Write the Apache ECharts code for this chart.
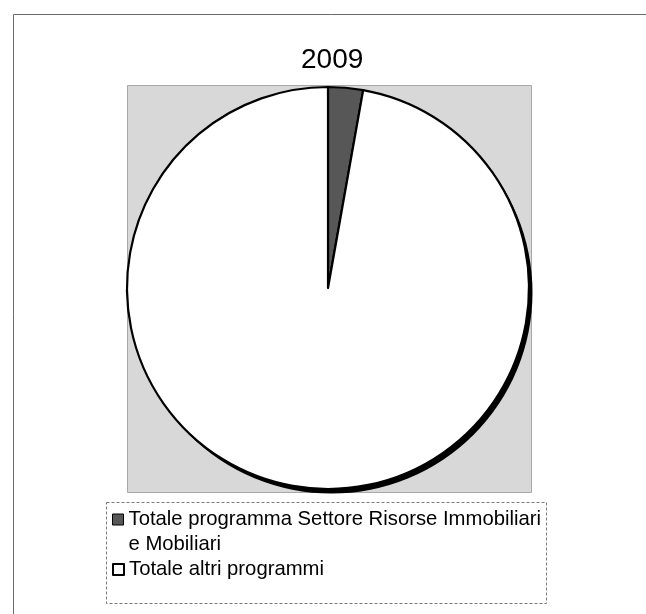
<!DOCTYPE html>
<html>
<head>
<meta charset="utf-8">
<script src="https://cdn.jsdelivr.net/npm/echarts@6/dist/echarts.min.js"></script>
<style>
  html, body { margin: 0; padding: 0; background: #ffffff; }
  #chart { width: 646px; height: 614px; }
</style>
</head>
<body>
<div id="chart"></div>
<script>
// Pie data: share of the sector programme versus all other programmes
const chartTitle = '2009';
const categories = [
  'Totale programma Settore Risorse Immobiliari e Mobiliari',
  'Totale altri programmi'
];
const values = [2.8, 97.2];
const sliceColors = ['#575757', '#ffffff'];

const FONT = "'Liberation Sans', Arial, Helvetica, sans-serif";
const PIE_CENTER = [328, 288];
const PIE_RADIUS = 201;

const chart = echarts.init(document.getElementById('chart'), null, { renderer: 'canvas' });

const pieData = categories.map((name, i) => ({
  name,
  value: values[i],
  itemStyle: { color: sliceColors[i] }
}));

// first legend entry wraps onto a second line; a blank leading line keeps
// the icon level with the first line of text
const wrapName = name => '\n' + name.replace(' e Mobiliari', '\ne Mobiliari');

const legendBase = {
  orient: 'vertical',
  left: 112,
  padding: 0,
  itemWidth: 11,
  itemHeight: 11,
  itemGap: 0,
  icon: 'rect',
  selectedMode: false,
  textStyle: { fontFamily: FONT, fontSize: 20.3, color: '#000', lineHeight: 25 }
};

chart.setOption({
  animation: false,
  title: {
    text: chartTitle,
    left: 301,
    top: 46,
    padding: 0,
    textStyle: { fontFamily: FONT, fontSize: 28, fontWeight: 'normal', color: '#000' }
  },
  graphic: [
    // outer frame (top and left edges visible)
    {
      type: 'rect', z: -10,
      shape: { x: 13.5, y: 14.5, width: 700, height: 700 },
      style: { fill: '#fff', stroke: '#6a6a6a', lineWidth: 1 }
    },
    // plot area background
    {
      type: 'rect', z: -5,
      shape: { x: 127.5, y: 85.5, width: 404, height: 407 },
      style: { fill: '#d8d8d8', stroke: '#a8a8a8', lineWidth: 1 }
    },
    // legend box
    {
      type: 'rect', z: -5,
      shape: { x: 106.5, y: 502.5, width: 440, height: 101 },
      style: { fill: '#fff', stroke: '#7a7a7a', lineWidth: 1, lineDash: [3, 2] }
    }
  ],
  legend: [
    Object.assign({}, legendBase, {
      top: 482,
      data: [{ name: categories[0], itemStyle: { borderColor: '#000', borderWidth: 1 } }],
      formatter: wrapName
    }),
    Object.assign({}, legendBase, {
      top: 557,
      data: [{ name: categories[1], itemStyle: { borderColor: '#000', borderWidth: 2 } }]
    })
  ],
  series: [
    // dark rim under the disc gives the raised edge on the lower right
    {
      type: 'pie',
      silent: true,
      z: 1,
      center: [PIE_CENTER[0] + 3.5, PIE_CENTER[1] + 4.5],
      radius: PIE_RADIUS,
      label: { show: false },
      labelLine: { show: false },
      legendHoverLink: false,
      itemStyle: { color: '#000' },
      data: [{ name: 'rim', value: 1 }]
    },
    {
      type: 'pie',
      z: 2,
      center: PIE_CENTER,
      radius: PIE_RADIUS,
      startAngle: 90,
      clockwise: true,
      label: { show: false },
      labelLine: { show: false },
      itemStyle: { borderColor: '#000', borderWidth: 2.2 },
      emphasis: { disabled: true },
      data: pieData
    }
  ]
});
</script>
</body>
</html>
